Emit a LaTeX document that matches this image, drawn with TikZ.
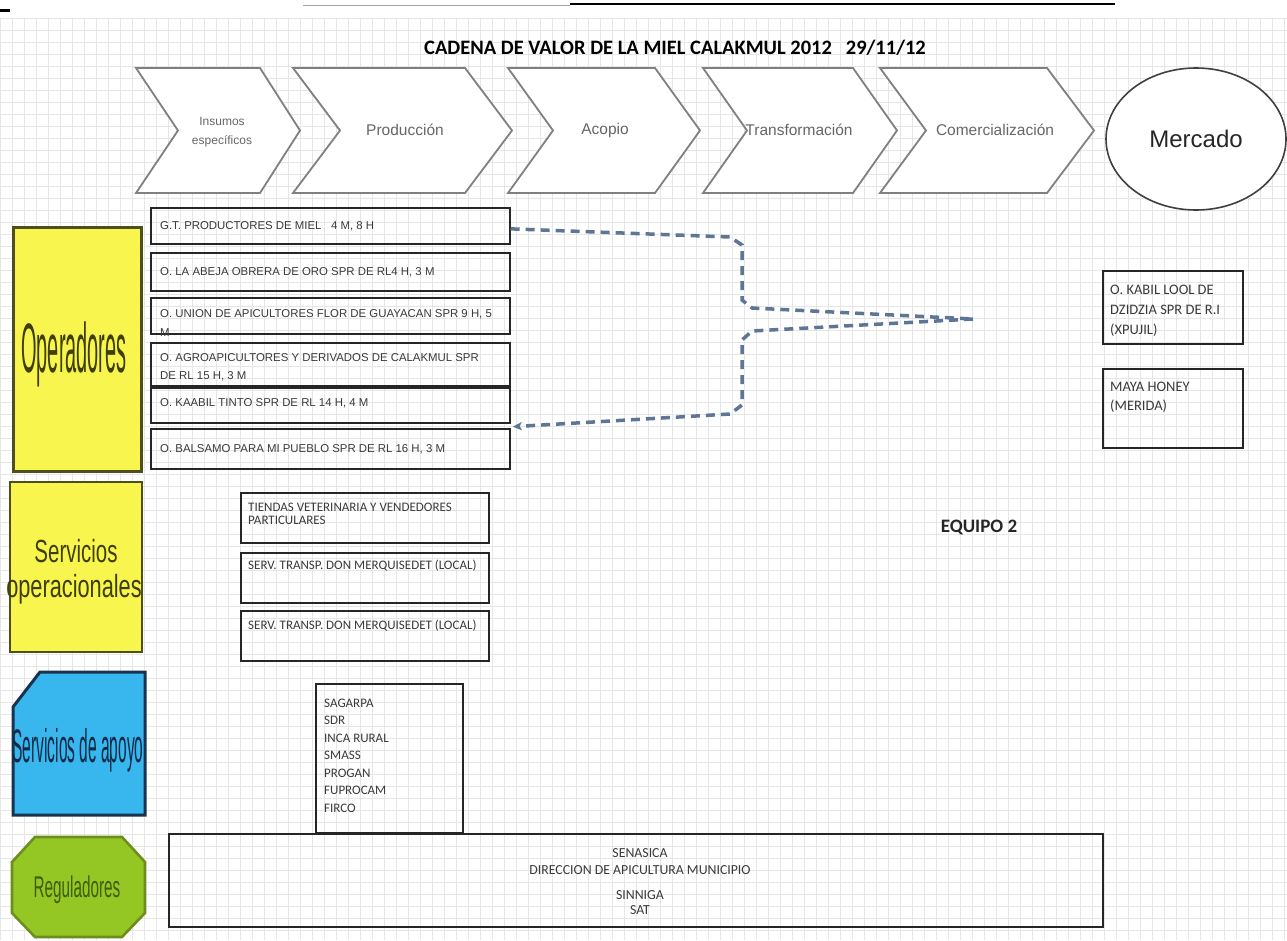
\documentclass[tikz,border=0pt]{standalone}
\usepackage{fontspec}
\setmainfont{Liberation Sans}
\newfontfamily\carl{Carlito}
\usetikzlibrary{arrows.meta,calc,shapes.geometric}
\definecolor{gridc}{HTML}{E6E6E6}
\definecolor{chevc}{HTML}{808080}
\definecolor{chevt}{HTML}{666666}
\definecolor{yel}{HTML}{F8F64E}
\definecolor{yelb}{HTML}{4F4F1C}
\definecolor{yelt}{HTML}{3E3E05}
\definecolor{blu}{HTML}{38B6EE}
\definecolor{blub}{HTML}{18334D}
\definecolor{blut}{HTML}{0E2A46}
\definecolor{grn}{HTML}{94C724}
\definecolor{grnb}{HTML}{6B8E1E}
\definecolor{grnt}{HTML}{3D5E0C}
\definecolor{dashcol}{HTML}{5E7696}
\definecolor{txtg}{HTML}{3A3A3A}
\tikzset{
  chevshape/.style={draw=chevc, line width=1.8, fill=white, line join=miter},
  chevtext/.style={text=chevt, font=\fontsize{15.5}{17}\selectfont, inner sep=0pt},
  box/.style={draw=black!85, line width=1.7, anchor=north west, inner sep=0pt},
  optext/.style={text=txtg, font=\fontsize{11.4}{13}\selectfont, anchor=base west, inner sep=0pt},
  cbtext/.style={text=txtg, font=\carl\fontsize{13}{13}\selectfont, inner sep=0pt},
  rgtext/.style={text=txtg, font=\carl\fontsize{13.8}{14}\selectfont, anchor=base, inner sep=0pt},
  rbtext/.style={text=txtg, font=\carl\fontsize{14.5}{15}\selectfont, anchor=base west, inner sep=0pt},
  dashc/.style={draw=dashcol, line width=3.5, dash pattern=on 9pt off 6pt},
  bigl/.style={anchor=base, inner sep=0pt},
}
\newcommand\mychev[4]{\draw[chevshape] (#1,68) -- (#3,68) -- (#4,130.5) -- (#3,193) -- (#1,193) -- (#2,130.5) -- cycle;}
\begin{document}
\begin{tikzpicture}[x=1pt,y=-1pt]
\useasboundingbox (0,0) rectangle (1287,940);
\fill[white] (0,0) rectangle (1287,940);
% grid paper
\foreach \gx in {0,12,...,1284} \draw[gridc, line width=0.6] (\gx,18) -- (\gx,940);
\foreach \gy in {18,30,...,930} \draw[gridc, line width=0.6] (0,\gy) -- (1287,\gy);
% top rule and mark
\draw[gray!70, line width=0.8] (303,5) -- (570,5);
\draw[black, line width=2.5] (570,4) -- (1115,4);
\draw[black, line width=3] (0,10) -- (10,10);
% title
\node[font=\carl\bfseries\fontsize{20.5}{22}\selectfont] (title) at (675,48) {CADENA DE VALOR DE LA MIEL CALAKMUL 2012\ \ \ 29/11/12};
% chevrons
\mychev{136}{178}{260}{300}
\mychev{293}{340}{465}{512}
\mychev{508}{553}{655}{700}
\mychev{703}{747}{853}{897}
\mychev{880}{926}{1047}{1094}
\node[chevtext, align=center, font=\fontsize{12}{19}\selectfont] (c1) at (222,132) {Insumos\\específicos};
\node[chevtext] (c2) at (405,130) {Producción};
\node[chevtext] (c3) at (605,130) {Acopio};
\node[chevtext] (c4) at (799,130) {Transformación};
\node[chevtext] (c5) at (995,130) {Comercialización};
\node[ellipse, draw=black!75, line width=1.6, fill=white, minimum width=180, minimum height=142, inner sep=0pt, text=black!85, font=\fontsize{24}{26}\selectfont] (mercado) at (1196,139) {Mercado};
% left category shapes
\draw[fill=yel, draw=yelb, line width=3] (13,227) rectangle (141,471);
\node[bigl, text=yelt, font=\fontsize{70}{70}\selectfont] (opl) at (74,372) {\scalebox{0.285}[1]{Operadores}};
\draw[fill=yel, draw=yelb, line width=2.6] (10,482) rectangle (142,652);
\node[bigl, text=yelt, font=\fontsize{32}{32}\selectfont] (sol1) at (76,562) {\scalebox{0.64}[1]{Servicios}};
\node[bigl, text=yelt, font=\fontsize{32}{32}\selectfont] (sol2) at (74,597) {\scalebox{0.68}[1]{operacionales}};
\draw[fill=blu, draw=blub, line width=3] (13,707) -- (40,672) -- (145,672) -- (145,815) -- (13,815) -- cycle;
\node[bigl, text=blut, font=\fontsize{47}{47}\selectfont] (sal) at (78,762) {\scalebox{0.33}[1]{Servicios de apoyo}};
\draw[fill=grn, draw=grnb, line width=2.6] (35,837) -- (122,837) -- (145,862) -- (145,913) -- (122,937) -- (35,937) -- (12,913) -- (12,862) -- cycle;
\node[bigl, text=grnt, font=\fontsize{30}{30}\selectfont] (rel) at (77,897) {\scalebox{0.51}[1]{Reguladores}};
% operator boxes
\node[box, minimum width=359, minimum height=36] (gt) at (150,207) {};
\node[box, minimum width=359, minimum height=38] (abeja) at (150,252) {};
\node[box, minimum width=359, minimum height=36] (union) at (150,297) {};
\node[box, minimum width=359, minimum height=43] (agro) at (150,342) {};
\node[box, minimum width=359, minimum height=35] (kaabil) at (150,387) {};
\node[box, minimum width=359, minimum height=40] (balsamo) at (150,428) {};
\node[optext] (tgt) at (160,229) {G.T. PRODUCTORES DE MIEL\ \ \ 4 M, 8 H};
\node[optext] (tab) at (160,275) {O. LA ABEJA OBRERA DE ORO SPR DE RL4 H, 3 M};
\node[optext] (tun1) at (160,317) {O. UNION DE APICULTORES FLOR DE GUAYACAN SPR 9 H, 5};
\node[optext] (tun2) at (160,336) {M};
\node[optext] (tag1) at (160,361) {O. AGROAPICULTORES Y DERIVADOS DE CALAKMUL SPR};
\node[optext] (tag2) at (160,379) {DE RL 15 H, 3 M};
\node[optext] (tka) at (160,406) {O. KAABIL TINTO SPR DE RL 14 H, 4 M};
\node[optext] (tba) at (160,452) {O. BALSAMO PARA MI PUEBLO SPR DE RL 16 H, 3 M};
% dashed connectors
\coordinate (hub) at (973,319);
\draw[dashc] ($(gt.east)+(0,3)$) -- (730,237) -- (742,245) -- (742,300) -- (752,308) -- (hub);
\draw[dashc, -{Stealth[length=9pt,width=8pt,inset=2pt]}] (hub) -- (752,331) -- (742,340) -- (742,405) -- (730,414) -- ($(kaabil.south east)+(2,3)$);
% right boxes
\node[box, minimum width=140, minimum height=73] (kabil) at (1102,270) {};
\node[rbtext] at (1110,294) {O. KABIL LOOL DE};
\node[rbtext] at (1110,314) {DZIDZIA SPR DE R.I};
\node[rbtext] at (1110,334) {(XPUJIL)};
\node[box, minimum width=140, minimum height=79] (maya) at (1102,368) {};
\node[rbtext] at (1110,391) {MAYA HONEY};
\node[rbtext] at (1110,410) {(MERIDA)};
\node[font=\carl\bfseries\fontsize{19}{20}\selectfont, text=black!85] (eq) at (979,527) {EQUIPO 2};
% operational services
\node[box, minimum width=248, minimum height=50] (tiendas) at (240,492) {};
\node[cbtext, anchor=base west] at (248,511) {TIENDAS VETERINARIA Y VENDEDORES};
\node[cbtext, anchor=base west] at (248,524) {PARTICULARES};
\node[box, minimum width=248, minimum height=50] (serv1) at (240,552) {};
\node[cbtext, anchor=base west] at (248,569) {SERV. TRANSP. DON MERQUISEDET (LOCAL)};
\node[box, minimum width=248, minimum height=50] (serv2) at (240,610) {};
\node[cbtext, anchor=base west] at (248,629) {SERV. TRANSP. DON MERQUISEDET (LOCAL)};
% support
\node[box, minimum width=147, minimum height=149] (sag) at (315,683) {};
\node[cbtext, anchor=base west] at (324,707) {SAGARPA};
\node[cbtext, anchor=base west] at (324,724.5) {SDR};
\node[cbtext, anchor=base west] at (324,742) {INCA RURAL};
\node[cbtext, anchor=base west] at (324,759.5) {SMASS};
\node[cbtext, anchor=base west] at (324,777) {PROGAN};
\node[cbtext, anchor=base west] at (324,794.5) {FUPROCAM};
\node[cbtext, anchor=base west] at (324,812) {FIRCO};
% regulators
\node[box, minimum width=934, minimum height=93] (reg) at (168,833) {};
\node[rgtext] at (640,857) {SENASICA};
\node[rgtext] at (640,874) {DIRECCION DE APICULTURA MUNICIPIO};
\node[rgtext] at (640,899) {SINNIGA};
\node[rgtext] at (640,914) {SAT};
\end{tikzpicture}
\end{document}
